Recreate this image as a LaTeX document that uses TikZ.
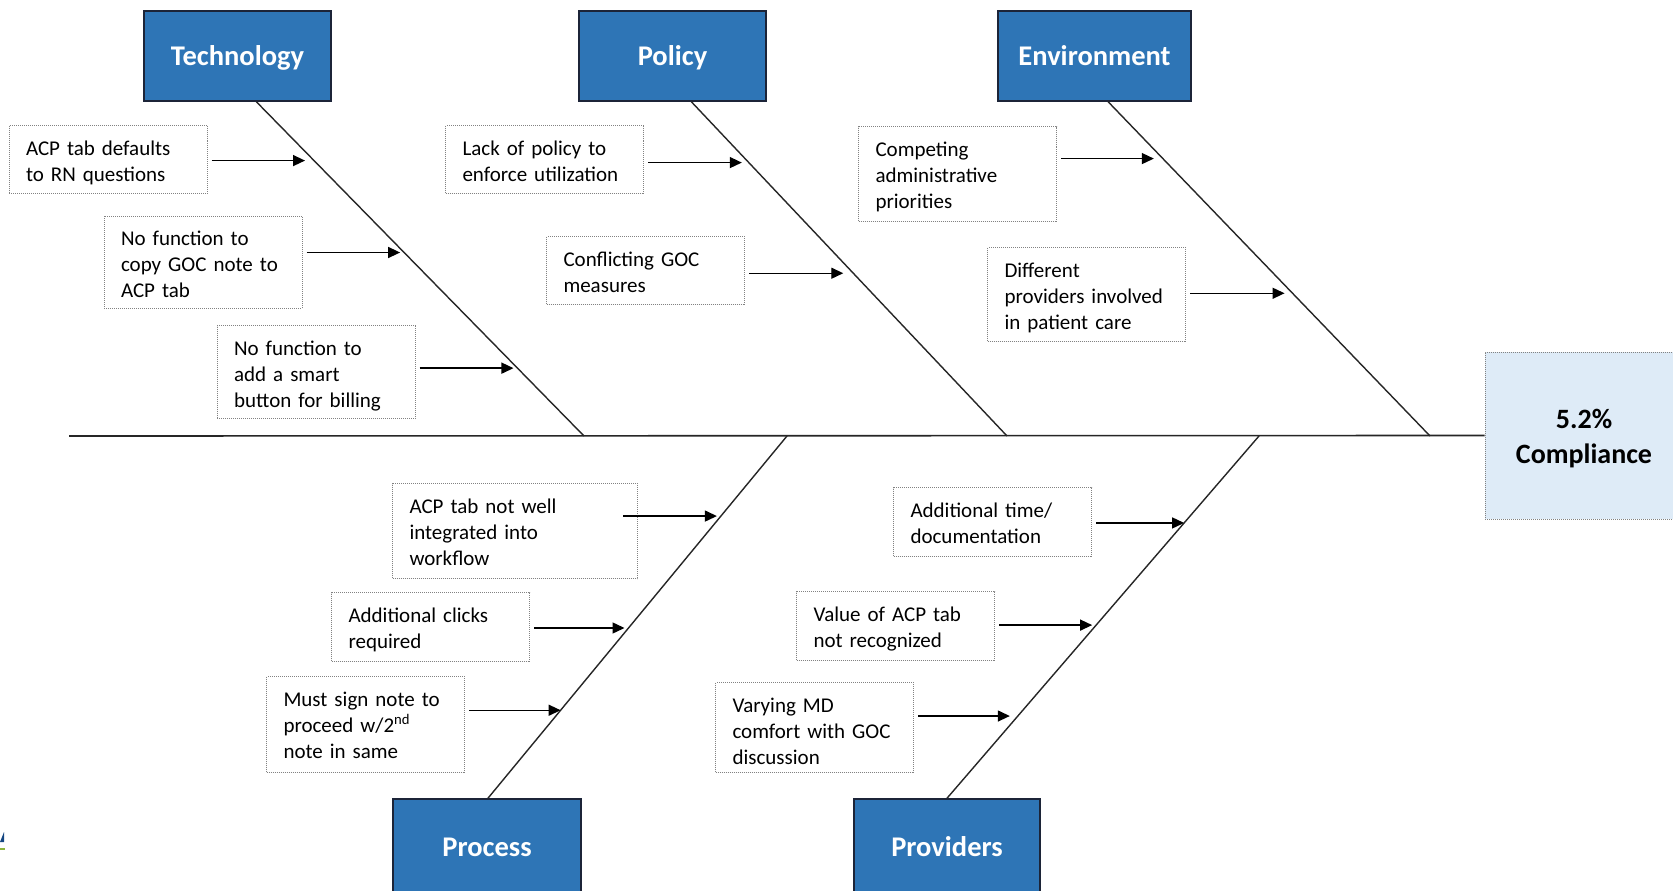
\documentclass[tikz,border=0pt]{standalone}
\usepackage{fontspec}
\setmainfont{Carlito}
\usetikzlibrary{arrows.meta,calc}
\definecolor{titleblue}{RGB}{46,117,182}
\definecolor{titleborder}{RGB}{28,36,56}
\definecolor{effectfill}{RGB}{222,235,247}
\definecolor{boxborder}{RGB}{130,130,130}
\definecolor{logoblue}{RGB}{20,70,130}
\definecolor{logogreen}{RGB}{140,180,60}
\begin{document}
\begin{tikzpicture}[x=1pt,y=-1pt,
  category/.style={draw=titleborder, line width=1.5pt, fill=titleblue, text=white,
    font=\fontsize{28.5}{34}\selectfont\bfseries, minimum width=187pt, minimum height=90pt,
    inner sep=0pt, text height=20pt, text depth=0pt},
  effectbox/.style={draw=boxborder, densely dotted, line width=1pt, fill=effectfill,
    font=\fontsize{28}{35}\selectfont\bfseries, minimum width=198pt, minimum height=167pt,
    inner sep=0pt, text height=20pt, text depth=35pt},
  cause/.style={draw=boxborder, densely dotted, line width=1pt, fill=white, align=left,
    font=\fontsize{21}{26}\selectfont, inner xsep=17pt, inner ysep=0pt, text width=164pt,
    text height=29.5pt, anchor=north west},
  bone/.style={line width=1.4pt, black!85},
  causearrow/.style={line width=1.4pt, -{Triangle[length=12pt,width=11pt]}},
]
\useasboundingbox (0,0) rectangle (1673,891);
\clip (0,0) rectangle (1673,891);
\fill[white] (0,0) rectangle (1673,891);

% category boxes
\node[category] (tech) at (237.5,56) {Technology};
\node[category] (policy) at (672.5,56) {Policy};
\node[category, minimum width=193pt] (env) at (1094.5,56) {Environment};
\node[category, minimum width=188pt, minimum height=94pt] (proc) at (487,846) {Process};
\node[category, minimum width=186pt, minimum height=94pt] (prov) at (947,846) {Providers};

% effect
\node[effectbox] (effect) at (1584,435.5)
  {\begin{tabular}[t]{@{}c@{}}5.2\%\\Compliance\end{tabular}};

% spine
\coordinate (S0) at (69,436);
\draw[bone, line width=1.6pt] (S0) -- (effect.west);

% bones
\coordinate (T1) at ($(tech.south west)!0.6!(tech.south east)$);
\coordinate (T2) at (584,436);
\coordinate (P1) at ($(policy.south west)!0.6!(policy.south east)$);
\coordinate (P2) at (1007,436);
\coordinate (E1) at ($(env.south west)!0.57!(env.south east)$);
\coordinate (E2) at (1430,436);
\coordinate (R1) at ($(proc.north west)!0.505!(proc.north east)$);
\coordinate (R2) at (787,436);
\coordinate (V1) at ($(prov.north west)!0.5!(prov.north east)$);
\coordinate (V2) at (1259,436);
\draw[bone] (T1) -- (T2);
\draw[bone] (P1) -- (P2);
\draw[bone] (E1) -- (E2);
\draw[bone] (R1) -- (R2);
\draw[bone] (V1) -- (V2);

% cause boxes
\node[cause, text depth=38.5pt] (c1) at (8.5,125) {ACP tab defaults\\to RN questions};
\node[cause, text depth=62.5pt] (c2) at (103.5,215.5) {No function to\\copy GOC note to\\ACP tab};
\node[cause, text depth=63.5pt] (c3) at (216.6,325) {No function to\\add a smart\\button for billing};
\node[cause, text depth=38.5pt] (c4) at (445,125) {Lack of policy to\\enforce utilization};
\node[cause, text depth=38.5pt] (c5) at (546,236) {Conflicting GOC\\measures};
\node[cause, text depth=65.5pt] (c6) at (858,126) {Competing\\administrative\\priorities};
\node[cause, text depth=64.5pt] (c7) at (987,247) {Different\\providers involved\\in patient care};
\node[cause, text depth=65.5pt, text width=211pt] (c8) at (392,483) {ACP tab not well\\integrated into\\workflow};
\node[cause, text depth=39.5pt] (c9) at (331,592) {Additional clicks\\required};
\node[cause, text depth=66.5pt] (c10) at (266,676) {Must sign note to\\proceed w/2\textsuperscript{nd}\\note in same};
\node[cause, text depth=39.5pt] (c11) at (893,487) {Additional time/\\documentation};
\node[cause, text depth=39.5pt] (c12) at (796,591) {Value of ACP tab\\not recognized};
\node[cause, text depth=60.5pt] (c13) at (715,682) {Varying MD\\comfort with GOC\\discussion};

% arrow end points on the bones
\coordinate (a1) at ($(T1)!0.176!(T2)$);
\coordinate (a2) at ($(T1)!0.451!(T2)$);
\coordinate (a3) at ($(T1)!0.797!(T2)$);
\coordinate (a4) at ($(P1)!0.182!(P2)$);
\coordinate (a5) at ($(P1)!0.513!(P2)$);
\coordinate (a6) at ($(E1)!0.170!(E2)$);
\coordinate (a7) at ($(E1)!0.573!(E2)$);
\coordinate (a8) at ($(R1)!0.779!(R2)$);
\coordinate (a9) at ($(R1)!0.470!(R2)$);
\coordinate (a10) at ($(R1)!0.243!(R2)$);
\coordinate (a11) at ($(V1)!0.760!(V2)$);
\coordinate (a12) at ($(V1)!0.478!(V2)$);
\coordinate (a13) at ($(V1)!0.227!(V2)$);

\foreach \i/\s in {1/9,2/4,3/4,4/7,5/10,6/9,7/8,9/4,10/0,11/0,12/4,13/8}{
  \draw[causearrow, shorten >=\s pt] (c\i.east |- a\i) ++(4,0) -- (a\i);
}
\draw[causearrow, shorten >=4pt] (c8.east |- a8) ++(-15,0) -- (a8);

% cropped logo fragment
\fill[logoblue] (0,842) -- (4,832) -- (4,842) -- cycle;
\draw[logogreen, line width=2pt] (0,849) -- (5,849);
\end{tikzpicture}
\end{document}
